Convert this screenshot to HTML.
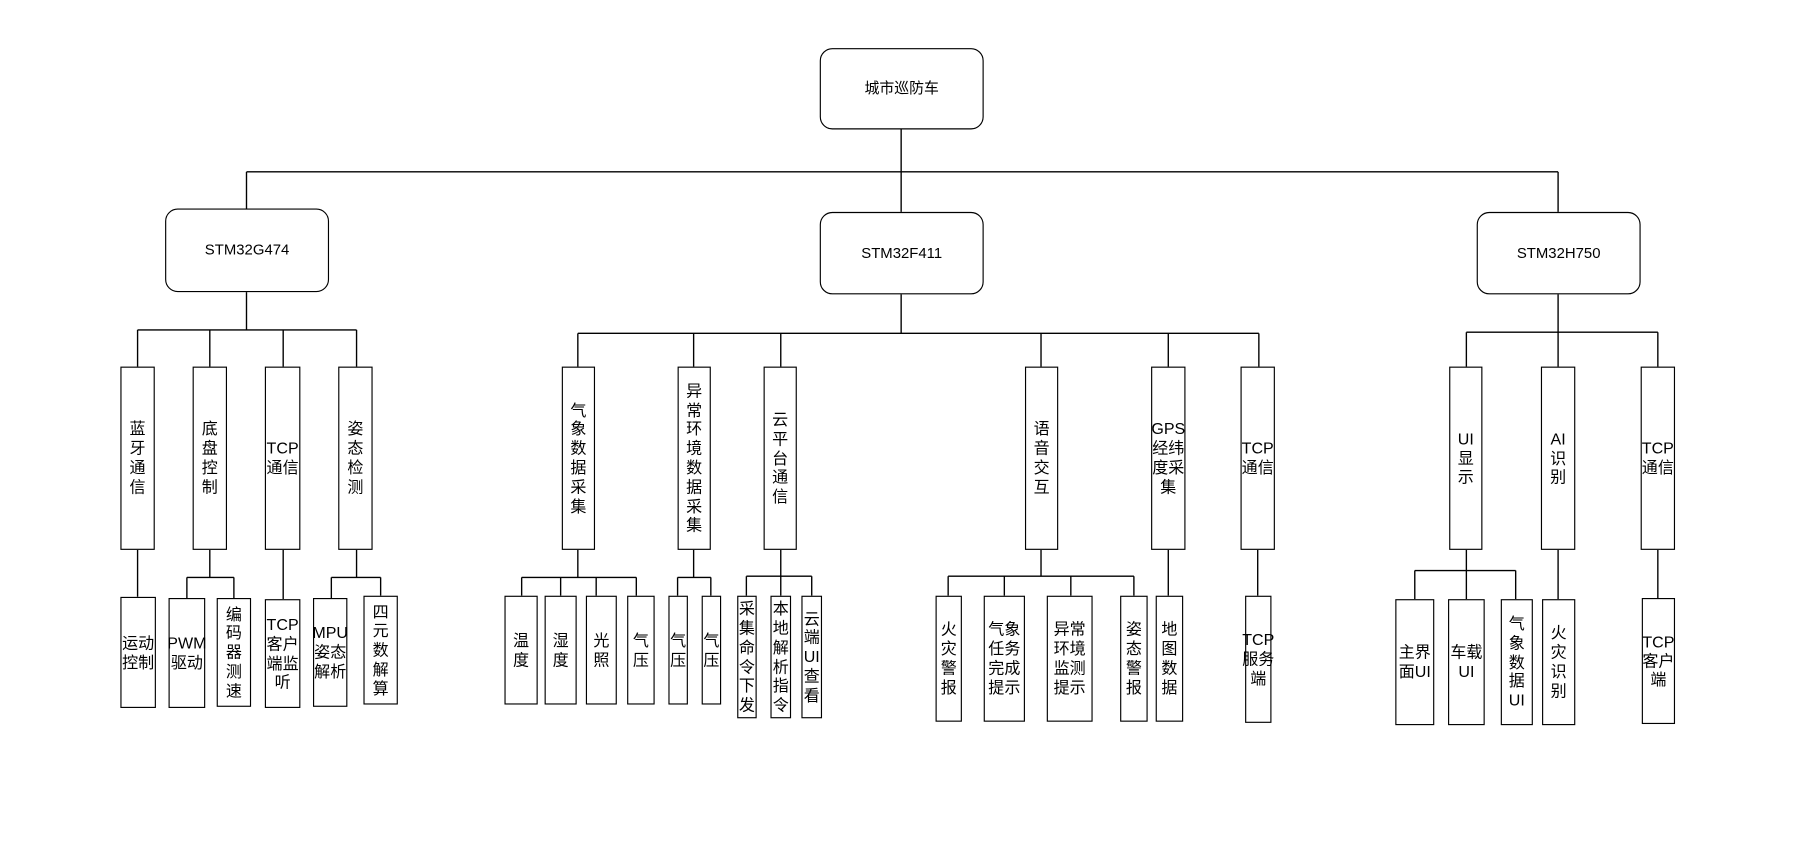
<!DOCTYPE html>
<html><head><meta charset="utf-8"><style>
html,body{margin:0;padding:0;background:#fff;width:1797px;height:842px;overflow:hidden}
#c{position:absolute;left:0;top:0;width:1560px;height:735px;transform-origin:0 0;transform:scale(1.1465,1.1456)}
.b{position:absolute;box-sizing:border-box;border:1.3px solid #000;background:#fff;display:flex;align-items:center;justify-content:center;text-align:center;font-family:"Liberation Sans","Noto Sans CJK SC",sans-serif;font-size:14px;line-height:16.8px;color:#000;overflow:visible;white-space:nowrap}
.r{border-radius:11px;font-size:13px}
svg{position:absolute;left:0;top:0}
</style></head><body><div id="c">
<svg width="1560" height="735" viewBox="0 0 1560 735"><g stroke="#000" stroke-width="1.2" fill="none">
<path d="M786 113V185M215 150H1359M215 150V182M1359 150V185"/>
<path d="M215 255V288M120 288H311M120 288V322M183 288V322M247 288V322M311 288V322"/>
<path d="M786 257V291M504 291H1098M504 291V322M605 291V322M681 291V322M908 291V322M1019 291V322M1098 291V322"/>
<path d="M1359 257V290M1279 290H1446M1279 290V322M1359 290V322M1446 290V322"/>
<path d="M120 480V521M183 480V504M163 504H204M163 504V522M204 504V522M247 480V523M311 480V504M289 504H332M289 504V522M332 504V520"/>
<path d="M504 480V504M455 504H555M455 504V520M489 504V520M520 504V520M555 504V520M605 480V504M591 504H620M591 504V520M620 504V520"/>
<path d="M681 480V503M651 503H708M651 503V520M681 503V520M708 503V520"/>
<path d="M908 480V503M827 503H989M827 503V520M876 503V520M934 503V520M989 503V520M1019 480V520M1097 480V520"/>
<path d="M1279 480V498M1234 498H1322M1234 498V523M1279 498V523M1322 498V523M1359 480V523M1446 480V522"/>
</g></svg>
<div class="b r" style="left:715px;top:42px;width:143px;height:71px">城市巡防车</div>
<div class="b r" style="left:144px;top:182px;width:143px;height:73px">STM32G474</div>
<div class="b r" style="left:715px;top:185px;width:143px;height:72px">STM32F411</div>
<div class="b r" style="left:1288px;top:185px;width:143px;height:72px">STM32H750</div>

<div class="b" style="left:105px;top:320px;width:30px;height:160px">蓝<br>牙<br>通<br>信</div>
<div class="b" style="left:168px;top:320px;width:30px;height:160px">底<br>盘<br>控<br>制</div>
<div class="b" style="left:231px;top:320px;width:31px;height:160px">TCP<br>通信</div>
<div class="b" style="left:295px;top:320px;width:30px;height:160px">姿<br>态<br>检<br>测</div>
<div class="b" style="left:490px;top:320px;width:29px;height:160px">气<br>象<br>数<br>据<br>采<br>集</div>
<div class="b" style="left:591px;top:320px;width:29px;height:160px">异<br>常<br>环<br>境<br>数<br>据<br>采<br>集</div>
<div class="b" style="left:666px;top:320px;width:29px;height:160px">云<br>平<br>台<br>通<br>信</div>
<div class="b" style="left:894px;top:320px;width:29px;height:160px">语<br>音<br>交<br>互</div>
<div class="b" style="left:1004px;top:320px;width:30px;height:160px">GPS<br>经纬<br>度采<br>集</div>
<div class="b" style="left:1082px;top:320px;width:30px;height:160px">TCP<br>通信</div>
<div class="b" style="left:1264px;top:320px;width:29px;height:160px">UI<br>显<br>示</div>
<div class="b" style="left:1344px;top:320px;width:30px;height:160px">AI<br>识<br>别</div>
<div class="b" style="left:1431px;top:320px;width:30px;height:160px">TCP<br>通信</div>

<div class="b" style="left:105px;top:521px;width:31px;height:97px">运动<br>控制</div>
<div class="b" style="left:147px;top:522px;width:32px;height:96px">PWM<br>驱动</div>
<div class="b" style="left:189px;top:522px;width:30px;height:95px">编<br>码<br>器<br>测<br>速</div>
<div class="b" style="left:231px;top:523px;width:31px;height:95px">TCP<br>客户<br>端监<br>听</div>
<div class="b" style="left:273px;top:522px;width:30px;height:95px">MPU<br>姿态<br>解析</div>
<div class="b" style="left:317px;top:520px;width:30px;height:95px">四<br>元<br>数<br>解<br>算</div>

<div class="b" style="left:440px;top:520px;width:29px;height:95px">温<br>度</div>
<div class="b" style="left:475px;top:520px;width:28px;height:95px">湿<br>度</div>
<div class="b" style="left:511px;top:520px;width:27px;height:95px">光<br>照</div>
<div class="b" style="left:547px;top:520px;width:24px;height:95px">气<br>压</div>
<div class="b" style="left:583px;top:520px;width:17px;height:95px">气<br>压</div>
<div class="b" style="left:612px;top:520px;width:17px;height:95px">气<br>压</div>
<div class="b" style="left:643px;top:520px;width:17px;height:107px">采<br>集<br>命<br>令<br>下<br>发</div>
<div class="b" style="left:672px;top:520px;width:18px;height:107px">本<br>地<br>解<br>析<br>指<br>令</div>
<div class="b" style="left:699px;top:520px;width:18px;height:107px">云<br>端<br>UI<br>查<br>看</div>

<div class="b" style="left:816px;top:520px;width:23px;height:110px">火<br>灾<br>警<br>报</div>
<div class="b" style="left:858px;top:520px;width:36px;height:110px">气象<br>任务<br>完成<br>提示</div>
<div class="b" style="left:913px;top:520px;width:40px;height:110px">异常<br>环境<br>监测<br>提示</div>
<div class="b" style="left:977px;top:520px;width:24px;height:110px">姿<br>态<br>警<br>报</div>
<div class="b" style="left:1008px;top:520px;width:24px;height:110px">地<br>图<br>数<br>据</div>
<div class="b" style="left:1086px;top:520px;width:23px;height:111px">TCP<br>服务<br>端</div>

<div class="b" style="left:1217px;top:523px;width:34px;height:110px">主界<br>面UI</div>
<div class="b" style="left:1263px;top:523px;width:32px;height:110px">车载<br>UI</div>
<div class="b" style="left:1309px;top:523px;width:28px;height:110px">气<br>象<br>数<br>据<br>UI</div>
<div class="b" style="left:1345px;top:523px;width:29px;height:110px">火<br>灾<br>识<br>别</div>
<div class="b" style="left:1432px;top:522px;width:29px;height:110px">TCP<br>客户<br>端</div>
</div></body></html>
